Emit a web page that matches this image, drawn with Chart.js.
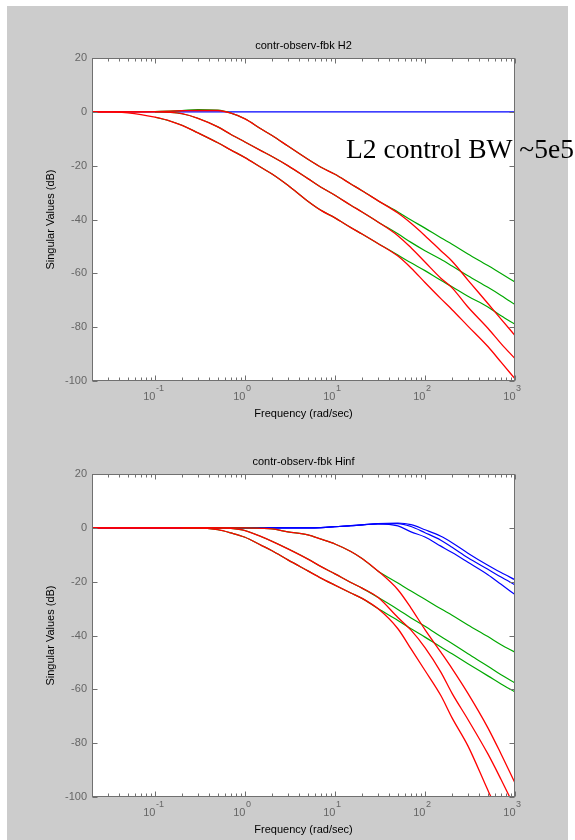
<!DOCTYPE html>
<html><head><meta charset="utf-8">
<script src="https://cdn.jsdelivr.net/npm/chart.js@4.4.1/dist/chart.umd.min.js"></script>
<style>
html,body{margin:0;padding:0;background:#fff;width:575px;height:840px;overflow:hidden;}
#bg{position:absolute;left:7px;top:6px;width:561px;height:834px;background:#cccccc;}
canvas{position:absolute;left:0;}
#c1{top:0px}
#c2{top:420px}
</style></head><body>
<div id="bg"></div>
<canvas id="c1" width="575" height="420"></canvas>
<canvas id="c2" width="575" height="420"></canvas>
<script>
// ---- data (frequency in rad/sec, singular values in dB) ----
const freq = [0.02, 0.03, 0.05, 0.07, 0.1, 0.15, 0.2, 0.3, 0.5, 0.7, 1, 1.5, 2, 3, 5, 7, 10, 15, 20, 30, 50, 70, 100, 150, 200, 300, 500, 700, 1000];

const xTickValues = [0.1, 1, 10, 100, 1000];
const xTickBase = '10';
const xTickExponents = ['-1', '0', '1', '2', '3'];
const yTicks = [20, 0, -20, -40, -60, -80, -100];

const titleH2 = 'contr-observ-fbk H2';
const titleHinf = 'contr-observ-fbk Hinf';
const xLabel = 'Frequency (rad/sec)';
const yLabel = 'Singular Values (dB)';
const noteH2 = 'L2 control BW ~5e5';

// H2 plot
const h2Blue = [0,0,0,0,0,0,0,0,0,0,0,0,0,0,0,0,0,0,0,0,0,0,0,0,0,0,0,0,0];
const h2Red1 = [0,0,0,0,0.1,0.3,0.4,0.5,0.5,-0.5,-2.6,-6.3,-8.8,-12.7,-17.6,-20.6,-23.2,-26.8,-29.3,-33.0,-37.6,-41.4,-46.0,-51.6,-55.5,-62.5,-71.2,-77.0,-83.1];
const h2Red2 = [0,0,0,0,0,-0.2,-0.7,-2.4,-5.6,-8.4,-11.2,-14.4,-16.6,-20.0,-24.8,-28.0,-31.0,-34.7,-37.2,-40.9,-46.0,-50.5,-55.8,-61.8,-65.4,-72.5,-80.4,-86.1,-91.7];
const h2Red3 = [0,0,-0.4,-1.0,-2.0,-3.5,-5.0,-7.8,-11.5,-14.2,-17.0,-20.6,-23.1,-27.3,-33.2,-36.6,-39.4,-43.0,-45.4,-48.9,-53.6,-58.0,-63.4,-69.4,-73.5,-79.6,-87.2,-93.0,-99.2];
const h2Green1 = [null,null,null,null,0.1,0.3,0.5,0.8,0.6,-0.5,-2.6,-6.3,-8.8,-12.7,-17.6,-20.6,-23.2,-26.8,-29.3,-33.0,-37.2,-40.2,-43.2,-46.8,-49.2,-52.8,-57.1,-60.1,-63.2];
const h2Green2 = [null,null,null,null,0,-0.2,-0.7,-2.4,-5.6,-8.4,-11.2,-14.4,-16.6,-20.0,-24.8,-28.0,-31.0,-34.7,-37.2,-40.9,-45.3,-48.5,-51.6,-54.8,-57.3,-60.9,-65.2,-68.2,-71.6];
const h2Green3 = [null,null,null,null,-2.0,-3.5,-5.0,-7.8,-11.5,-14.2,-17.0,-20.6,-23.1,-27.3,-33.2,-36.6,-39.4,-43.0,-45.4,-48.9,-53.2,-56.1,-59.0,-62.6,-65.0,-68.5,-72.5,-75.8,-78.9];

// Hinf plot
const hinfBlue1 = [0,0,0,0,0,0,0,0,0,0,0,0,0,0,0,0.1,0.4,0.8,1.1,1.6,1.8,1.2,-0.7,-3.1,-5.5,-9.4,-13.9,-16.6,-19.3];
const hinfBlue2 = [0,0,0,0,0,0,0,0,0,0,0,0,0,0,0,0.1,0.4,0.8,1.1,1.5,1.6,0.5,-1.8,-4.6,-7.2,-11.1,-15.4,-18.3,-21.2];
const hinfBlue3 = [0,0,0,0,0,0,0,0,0,0,0,0,0,0,0,0.1,0.4,0.8,1.1,1.5,0.7,-1.5,-3.4,-6.8,-9.2,-12.8,-17.4,-21.0,-24.8];
const hinfRed1 = [0,0,0,0,0,0,0,0,0,0,0,-0.2,-0.4,-1.5,-2.6,-4.2,-6.0,-8.8,-11.4,-16.0,-23.0,-29.8,-37.8,-46.2,-52.3,-61.5,-74.3,-84.0,-94.8];
const hinfRed2 = [0,0,0,0,0,0,0,0,0,-0.2,-1.0,-3.2,-5.0,-7.8,-11.6,-14.4,-17.1,-20.3,-22.4,-25.8,-33.3,-38.0,-44.5,-53.6,-61.5,-71.2,-84.0,-93.5,-104];
const hinfRed3 = [0,0,0,0,0,0,0,0,-0.7,-1.9,-3.5,-6.4,-8.5,-11.9,-16.0,-18.7,-21.3,-24.2,-26.2,-30.0,-37.5,-45.0,-53.0,-62.3,-70.6,-81.0,-97.5,-108,-118];
const hinfGreen1 = [null,null,null,null,null,null,0,0,0,0,0,-0.2,-0.4,-1.5,-2.6,-4.2,-6.0,-8.8,-11.4,-16.0,-20.5,-23.5,-26.5,-30.1,-32.5,-36.1,-40.4,-43.4,-46.2];
const hinfGreen2 = [null,null,null,null,null,null,0,0,0,-0.2,-1.0,-3.2,-5.0,-7.8,-11.6,-14.4,-17.1,-20.3,-22.4,-25.8,-30.3,-33.5,-36.6,-40.4,-43.0,-46.8,-51.4,-54.6,-57.6];
const hinfGreen3 = [null,null,null,null,null,null,0,0,-0.7,-1.9,-3.5,-6.4,-8.5,-11.9,-16.0,-18.7,-21.3,-24.2,-26.2,-30.0,-34.4,-37.5,-40.6,-44.3,-46.8,-50.5,-55.0,-58.0,-61.0];

// ---- styling ----
const FONT = '"Liberation Sans", Arial, sans-serif';
const SERIF = '"Liberation Serif", "DejaVu Serif", serif';
const BOX_COLOR = '#707070';
const TICK_COLOR = '#666666';
const RED = '#ff0000', GREEN = '#00a800', BLUE = '#0000ff';
const Y_AXIS_W = 40;

const matlabAxes = {
  id: 'matlabAxes',
  beforeDraw(chart) {
    const {ctx, chartArea: a} = chart;
    ctx.save();
    ctx.fillStyle = '#ffffff';
    ctx.fillRect(a.left, a.top, a.right - a.left, a.bottom - a.top);
    ctx.restore();
  },
  afterDraw(chart, args, opts) {
    const {ctx, chartArea: a, scales: {x, y}} = chart;
    ctx.save();
    ctx.strokeStyle = BOX_COLOR;
    ctx.lineWidth = 1;
    const L = Math.round(a.left) + 0.5, R = Math.round(a.right) - 0.5;
    const T = Math.round(a.top) + 0.5, B = Math.round(a.bottom) - 0.5;
    ctx.strokeRect(L, T, R - L, B - T);
    ctx.beginPath();
    yTicks.forEach(v => {
      const py = Math.round(y.getPixelForValue(v)) + 0.5;
      ctx.moveTo(L, py); ctx.lineTo(L + 5, py);
      ctx.moveTo(R, py); ctx.lineTo(R - 5, py);
    });
    for (let e = -2; e <= 3; e++) {
      for (let k = 1; k <= 9; k++) {
        const v = k * Math.pow(10, e);
        if (v < x.min * 0.999 || v > x.max * 1.001) continue;
        const len = k === 1 ? 5 : 3;
        const px = Math.round(x.getPixelForValue(v)) + 0.5;
        ctx.moveTo(px, B); ctx.lineTo(px, B - len);
        ctx.moveTo(px, T); ctx.lineTo(px, T + len);
      }
    }
    ctx.stroke();

    // x tick labels: 10 with superscript exponent
    ctx.fillStyle = TICK_COLOR;
    ctx.textBaseline = 'alphabetic';
    xTickValues.forEach((v, i) => {
      const px = x.getPixelForValue(v);
      ctx.font = '11px ' + FONT;
      ctx.textAlign = 'right';
      ctx.fillText(xTickBase, px + 0.5, a.bottom + 19);
      ctx.font = '9px ' + FONT;
      ctx.textAlign = 'left';
      ctx.fillText(xTickExponents[i], px + 1, a.bottom + 9.5);
    });

    // title and axis labels
    ctx.fillStyle = '#000000';
    ctx.font = '11px ' + FONT;
    ctx.textAlign = 'center';
    ctx.textBaseline = 'middle';
    const cx = (a.left + a.right) / 2;
    ctx.fillText(opts.title, cx, a.top - 12);
    ctx.fillText(xLabel, cx, a.bottom + 33);
    ctx.save();
    ctx.translate(51, (a.top + a.bottom) / 2);
    ctx.rotate(-Math.PI / 2);
    ctx.fillText(yLabel, 0, 0);
    ctx.restore();

    if (opts.note) {
      ctx.font = '27.5px ' + SERIF;
      ctx.textAlign = 'left';
      ctx.textBaseline = 'alphabetic';
      ctx.fillStyle = '#000000';
      ctx.fillText(opts.note, 346, 158);
    }
    ctx.restore();
  }
};

function series(arr, color, width) {
  return {
    data: freq.map((f, i) => ({x: f, y: arr[i]})),
    borderColor: color,
    borderWidth: width,
    pointRadius: 0,
    fill: false,
    cubicInterpolationMode: 'monotone'
  };
}

function makeChart(id, title, reds, greens, blues, areaTop, areaBottom, note) {
  const datasets = [];
  // first dataset is drawn on top
  reds.forEach(a => datasets.push(series(a, RED, 1.3)));
  greens.forEach(a => datasets.push(series(a, GREEN, 1.2)));
  blues.forEach(a => datasets.push(series(a, BLUE, 1.2)));
  return new Chart(document.getElementById(id), {
    type: 'line',
    data: {datasets},
    options: {
      responsive: false,
      animation: false,
      devicePixelRatio: 1,
      events: [],
      layout: {padding: {top: areaTop, bottom: 420 - areaBottom, left: 92 - Y_AXIS_W, right: 60}},
      plugins: {
        legend: {display: false},
        tooltip: {enabled: false},
        title: {display: false},
        matlabAxes: {title, note}
      },
      scales: {
        x: {type: 'logarithmic', min: 0.02, max: 1000, display: false},
        y: {
          type: 'linear', min: -100, max: 20,
          afterBuildTicks: s => { s.ticks = yTicks.map(v => ({value: v})); },
          afterFit: s => { s.width = Y_AXIS_W; },
          grid: {display: false, drawTicks: false},
          border: {display: false},
          ticks: {color: TICK_COLOR, font: {family: FONT, size: 11}, padding: 5}
        }
      }
    },
    plugins: [matlabAxes]
  });
}

makeChart('c1', titleH2, [h2Red1, h2Red2, h2Red3], [h2Green1, h2Green2, h2Green3], [h2Blue], 58, 381, noteH2);
makeChart('c2', titleHinf, [hinfRed1, hinfRed2, hinfRed3], [hinfGreen1, hinfGreen2, hinfGreen3], [hinfBlue1, hinfBlue2, hinfBlue3], 54, 377, null);
</script>
</body></html>
